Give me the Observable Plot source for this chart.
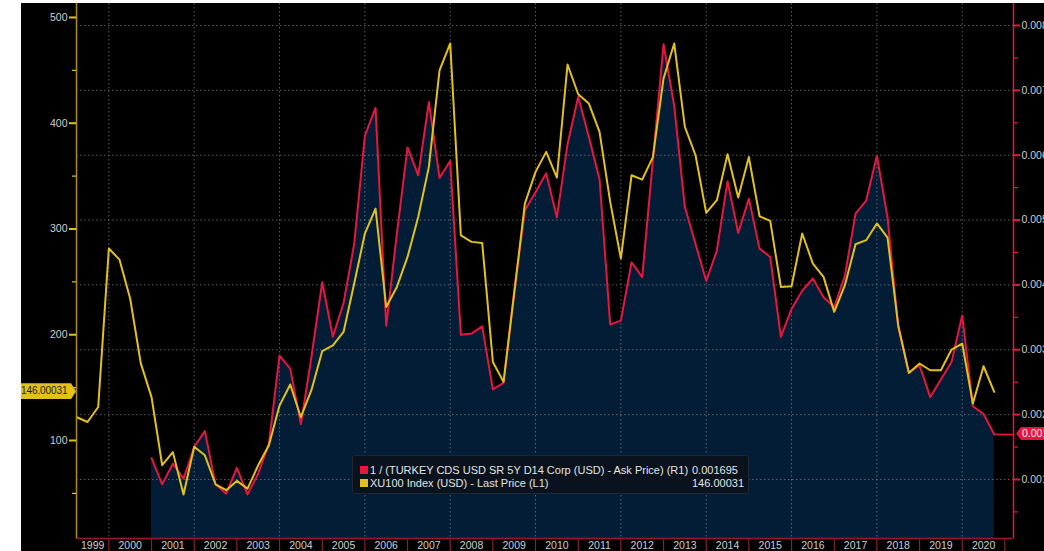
<!DOCTYPE html>
<html><head><meta charset="utf-8">
<script src="https://cdn.jsdelivr.net/npm/d3@7"></script>
<script src="https://cdn.jsdelivr.net/npm/@observablehq/plot@0.6"></script>
<style>
body{margin:0;background:#fff;}
#wrap{position:absolute;left:21px;top:3px;width:1023px;height:548px;background:#000;overflow:hidden;font-family:'Liberation Sans',Arial,sans-serif;}
#wrap svg{position:absolute;left:0;top:0;}
.legend{position:absolute;left:331px;top:452px;width:395px;height:37px;background:#0a131d;border:1px solid #1e2834;border-radius:3px;color:#e4e4e4;font-size:11px;}
.legend .row{position:absolute;left:0;width:100%;height:13px;line-height:13px;white-space:nowrap;}
.legend .sw{position:absolute;left:7px;top:2px;width:8px;height:8px;}
.legend .lab{position:absolute;left:17px;top:0;}
.legend .val{position:absolute;left:339px;top:0;}
.tag{position:absolute;white-space:nowrap;}
</style>
</head><body>
<div id="wrap"></div>
<script>
// ---------------- data ----------------
const quarters = [
 "1999-04","1999-07","1999-10",
 "2000-01","2000-04","2000-07","2000-10",
 "2001-01","2001-04","2001-07","2001-10",
 "2002-01","2002-04","2002-07","2002-10",
 "2003-01","2003-04","2003-07","2003-10",
 "2004-01","2004-04","2004-07","2004-10",
 "2005-01","2005-04","2005-07","2005-10",
 "2006-01","2006-04","2006-07","2006-10",
 "2007-01","2007-04","2007-07","2007-10",
 "2008-01","2008-04","2008-07","2008-10",
 "2009-01","2009-04","2009-07","2009-10",
 "2010-01","2010-04","2010-07","2010-10",
 "2011-01","2011-04","2011-07","2011-10",
 "2012-01","2012-04","2012-07","2012-10",
 "2013-01","2013-04","2013-07","2013-10",
 "2014-01","2014-04","2014-07","2014-10",
 "2015-01","2015-04","2015-07","2015-10",
 "2016-01","2016-04","2016-07","2016-10",
 "2017-01","2017-04","2017-07","2017-10",
 "2018-01","2018-04","2018-07","2018-10",
 "2019-01","2019-04","2019-07","2019-10",
 "2020-01","2020-04","2020-07","2020-10"
];
// XU100 Index (USD) - Last Price (left axis)
const xu100Usd = [122,117.5,131.7,281.5,271,234,172.7,141,76.6,89,
 49,94,86,58.6,53,61.8,54.5,76.6,95.5,133,
 153,122,148,184.4,190,202.6,248.4,295.7,319.3,226.3,
 245.2,273.6,311.4,358.7,450,475.4,294,287.8,286.8,174.3,
 155.4,239,324,354,372.9,348.6,455.5,427.4,418.6,391.8,
 325.6,272,350.8,346.7,368,442.3,475.4,396.5,369.7,315.2,
 327.2,370.7,329.7,368,312,307.6,245.2,245.9,295.7,267.3,
 254.7,221.6,246.8,285.6,289.4,305.2,291.9,209,163.9,172.8,
 166.4,166.4,186,191.7,135,170.2,146.00031];
// 1 / (TURKEY CDS USD SR 5Y D14 Corp) - Ask Price (right axis), from 2001-01
const cdsStart = "2001-01";
const cdsInverse = [0.00133,0.000925,0.001243,0.001012,0.0015,0.001746,0.000925,0.000781,0.00118,0.00077,
 0.00109,0.00155,0.00291,0.00271,0.00185,0.0029,0.00404,0.0032,0.00372,0.00463,
 0.0063,0.00673,0.00337,0.00479,0.00612,0.00569,0.00682,0.00565,0.00591,0.00323,
 0.00325,0.00336,0.00239,0.00249,0.00391,0.00515,0.00543,0.00572,0.00504,0.00617,
 0.0069,0.00628,0.00563,0.00339,0.00345,0.00435,0.00412,0.00592,0.00771,0.00676,
 0.0052,0.00463,0.00406,0.00453,0.0056,0.0048,0.00533,0.00456,0.00443,0.0032,
 0.00363,0.00391,0.0041,0.00381,0.00366,0.00414,0.0051,0.0053,0.00599,0.00504,
 0.00335,0.00265,0.00276,0.00227,0.00254,0.00281,0.00353,0.00213,0.00201,0.001695];
const leftTicks = [100,200,300,400,500];
const leftMinorTicks = [50,150,250,350,450];
const rightTicks = [0.001,0.002,0.003,0.004,0.005,0.006,0.007,0.008];
const rightMinorTicks = [0.0005,0.0015,0.0025,0.0035,0.0045,0.0055,0.0065,0.0075];
const yearLabels = [1999,2000,2001,2002,2003,2004,2005,2006,2007,2008,2009,2010,2011,2012,2013,2014,2015,2016,2017,2018,2019,2020];
const yearSeparators = [2000,2001,2002,2003,2004,2005,2006,2007,2008,2009,2010,2011,2012,2013,2014,2015,2016,2017,2018,2019,2020,2021];
const gridYears = [2000,2002,2004,2006,2008,2010,2012,2014,2016,2018,2020];
const legendLabels = ["1 / (TURKEY CDS USD SR 5Y D14 Corp (USD) - Ask Price) (R1)", "XU100 Index (USD) - Last Price (L1)"];

// ---------------- build ----------------
const toYear = s => +s.slice(0,4) + (+s.slice(5,7) - 1) / 12;
const yellowData = quarters.map((q,i) => ({t: toYear(q), v: xu100Usd[i]}));
const i0 = quarters.indexOf(cdsStart);
const redData = cdsInverse.map((v,i) => ({t: toYear(quarters[i0 + i]), v}));

const W = 1023, H = 548;
const xDomain = [1999.2414, 2021.202];
const leftDomain = [7.33, 513.2];
const rightDomain = [0.00009, 0.008339];
const RED = "#e8163f", YEL = "#e2c21a", NAVY = "#031d37", LBL = "#cfcfcf";
const base = {width: W, height: H, marginLeft: 55, marginRight: 31, marginTop: 0, marginBottom: 13,
  style: {background: "transparent", color: LBL, fontFamily: "'Liberation Sans', Arial, sans-serif", fontSize: "10.5px", overflow: "visible"}};
const grid = {stroke: "#9a9a9a", strokeOpacity: 0.6, strokeDasharray: "1.5,2.5"};
const yearMid = y => (Math.max(y, xDomain[0]) + Math.min(y + 1, xDomain[1])) / 2;
const lastRed = redData[redData.length - 1];
const lastYel = yellowData[yellowData.length - 1];

const chartA = Plot.plot({...base,
  x: {type: "linear", domain: xDomain},
  y: {type: "linear", domain: rightDomain},
  marks: [
    Plot.areaY(redData, {x: "t", y1: rightDomain[0], y2: "v", fill: NAVY}),
    Plot.gridX(gridYears, grid),
    Plot.gridY(rightTicks, grid),
    Plot.lineY(redData, {x: "t", y: "v", stroke: RED, strokeWidth: 2}),
    Plot.ruleY([lastRed], {y: "v", x1: "t", x2: xDomain[1], stroke: RED, strokeWidth: 1.5}),
    Plot.ruleX([xDomain[1]], {stroke: RED, strokeWidth: 1.5}),
    Plot.ruleY([rightDomain[0]], {stroke: "#9c1630", strokeWidth: 1.5}),
    Plot.axisY(rightTicks, {anchor: "right", tickSize: 6, tickPadding: 2, stroke: RED, strokeWidth: 2, fill: LBL, tickFormat: d3.format(".3f"), label: null}),
    Plot.axisY(rightMinorTicks, {anchor: "right", tickSize: 4, stroke: RED, strokeWidth: 1.2, tickFormat: () => "", label: null}),
    Plot.axisX(yearSeparators, {anchor: "bottom", tickSize: 14, stroke: "#8c1c2e", strokeWidth: 1.2, tickFormat: () => "", label: null}),
    Plot.axisX(yearLabels.map(yearMid), {anchor: "bottom", tickSize: 0, tickPadding: 3, fill: LBL, tickFormat: d => String(Math.floor(d)), label: null})
  ]
});

const chartB = Plot.plot({...base,
  x: {type: "linear", domain: xDomain, axis: null},
  y: {type: "linear", domain: leftDomain},
  marks: [
    Plot.lineY(yellowData, {x: "t", y: "v", stroke: YEL, strokeWidth: 2}),
    Plot.ruleX([xDomain[0]], {stroke: "#a88f00", strokeWidth: 1.5}),
    Plot.axisY(leftTicks, {anchor: "left", tickSize: 7, tickPadding: 2, stroke: YEL, strokeWidth: 2, fill: LBL, tickFormat: d3.format("d"), label: null}),
    Plot.axisY(leftMinorTicks, {anchor: "left", tickSize: 4, stroke: YEL, strokeWidth: 1.2, tickFormat: () => "", label: null})
  ]
});

const wrap = document.getElementById("wrap");
wrap.appendChild(chartA);
wrap.appendChild(chartB);

function applyScale(chart, name, v) {
  const s = chart.scale(name);
  if (s.apply) return s.apply(v);
  return d3.scaleLinear(s.domain, s.range)(v);
}

// value tags
const yTagY = applyScale(chartB, "y", lastYel.v);
const tagY = document.createElement("div");
tagY.className = "tag";
Object.assign(tagY.style, {left: "-1px", top: (yTagY - 8) + "px", width: "56px", height: "16px", lineHeight: "16px",
  background: YEL, color: "#1b1b1b", paddingLeft: "1px", boxSizing: "border-box", fontSize: "10px", letterSpacing: "-0.1px",
  clipPath: "polygon(0 0, calc(100% - 5px) 0, 100% 50%, calc(100% - 5px) 100%, 0 100%)"});
tagY.textContent = String(lastYel.v);
wrap.appendChild(tagY);

const yTagR = applyScale(chartA, "y", lastRed.v);
const tagR = document.createElement("div");
tagR.className = "tag";
Object.assign(tagR.style, {left: "995px", top: (yTagR - 7) + "px", width: "60px", height: "13px", lineHeight: "13px",
  background: RED, color: "#f4f4f4", paddingLeft: "6px", boxSizing: "border-box", fontSize: "10.5px",
  clipPath: "polygon(0 50%, 5px 0, 100% 0, 100% 100%, 5px 100%)"});
tagR.textContent = String(lastRed.v);
wrap.appendChild(tagR);

// legend
const lg = document.createElement("div");
lg.className = "legend";
[[RED, legendLabels[0], String(lastRed.v)], [YEL, legendLabels[1], String(lastYel.v)]].forEach(([c, l, v], i) => {
  const r = document.createElement("div");
  r.className = "row";
  r.style.top = (8 + i * 13) + "px";
  r.innerHTML = `<span class="sw" style="background:${c}"></span><span class="lab"></span><span class="val"></span>`;
  r.querySelector(".lab").textContent = l;
  r.querySelector(".val").textContent = v;
  lg.appendChild(r);
});
wrap.appendChild(lg);
</script>
</body></html>
